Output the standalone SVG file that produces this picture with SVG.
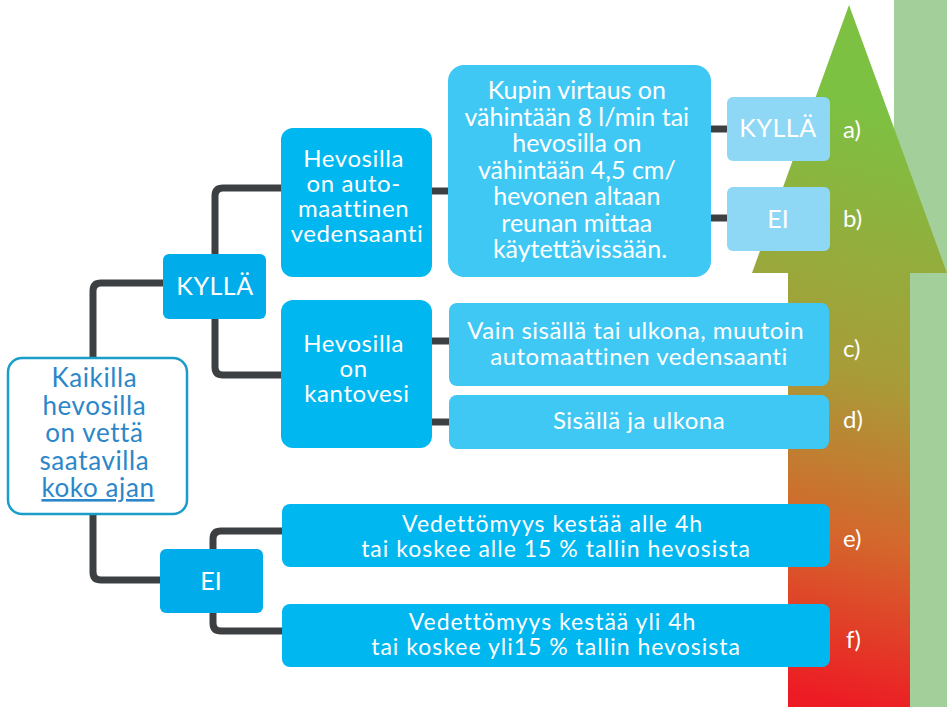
<svg xmlns="http://www.w3.org/2000/svg" width="947" height="707" viewBox="0 0 947 707">
<defs>
<linearGradient id="g" gradientUnits="userSpaceOnUse" x1="790" y1="690" x2="930" y2="120">
<stop offset="0" stop-color="#ED1C24"/>
<stop offset="0.28" stop-color="#D4672C"/>
<stop offset="0.55" stop-color="#A89C38"/>
<stop offset="1" stop-color="#7CC142"/>
</linearGradient>
<style>
.c{fill:none;stroke:#3C4043;stroke-width:7;stroke-linejoin:round}
.t{font-family:Lato,"Liberation Sans",sans-serif;fill:#fff;text-anchor:middle}
.lbl{font-family:Lato,"Liberation Sans",sans-serif;fill:#fff;font-size:24px}
.dk{fill:#00B7F0}
.md{fill:#3FC8F4}
.lt{fill:#8ED8F6}
</style>
</defs>
<rect x="894" y="0" width="53" height="707" fill="#A3D09A"/>
<polygon points="849,5 947,273 910,273 910,707 788,707 788,273 752,273" fill="url(#g)"/>
<g id="connectors">
<path class="c" d="M93,360 V291 Q93,283 101,283 H165"/>
<path class="c" d="M93,512 V572 Q93,580 101,580 H162"/>
<path class="c" d="M283,188 H223 Q215,188 215,196 V367 Q215,375 223,375 H283"/>
<path class="c" d="M430,191 H450"/>
<path class="c" d="M430,341 H451"/>
<path class="c" d="M430,422 H451"/>
<path class="c" d="M709,129 H729"/>
<path class="c" d="M709,218 H729"/>
<path class="c" d="M285,531 H221 Q213,531 213,539 V623 Q213,631 221,631 H285"/>
</g>
<g id="root">
<rect x="8" y="358" width="179" height="156" rx="14" fill="#fff" stroke="#1B9DCA" stroke-width="2.5"/>
<text class="t" style="fill:#2B87C9;font-size:26px;letter-spacing:0.6px">
<tspan x="98" y="387">Kaikilla</tspan>
<tspan x="98" y="415">hevosilla</tspan>
<tspan x="98" y="442">on vettä</tspan>
<tspan x="98" y="470">saatavilla</tspan>
<tspan x="98" y="497" text-decoration="underline">koko ajan</tspan>
</text>
</g>
<g id="kylla">
<rect x="163" y="254" width="103" height="65" rx="6" fill="#00ACEA"/>
<text class="t" x="215" y="295" font-size="25" letter-spacing="0.5">KYLLÄ</text>
</g>
<g id="ei">
<rect x="160" y="549" width="103" height="64" rx="6" fill="#00ACEA"/>
<text class="t" x="211" y="590" font-size="25">EI</text>
</g>
<g id="auto">
<rect class="dk" x="281" y="128" width="151" height="149" rx="12"/>
<text class="t" font-size="24" letter-spacing="0.6">
<tspan x="357" y="167">Hevosilla</tspan>
<tspan x="357" y="192">on auto-</tspan>
<tspan x="357" y="217">maattinen</tspan>
<tspan x="357" y="242">vedensaanti</tspan>
</text>
</g>
<g id="kanto">
<rect class="dk" x="281" y="300" width="151" height="148" rx="12"/>
<text class="t" font-size="24" letter-spacing="0.6">
<tspan x="357" y="352">Hevosilla</tspan>
<tspan x="357" y="377">on</tspan>
<tspan x="357" y="402">kantovesi</tspan>
</text>
</g>
<g id="kupin">
<rect class="md" x="448" y="65" width="263" height="212" rx="16"/>
<text class="t" font-size="25">
<tspan x="580" y="99">Kupin virtaus on</tspan>
<tspan x="580" y="126">vähintään 8 l/min tai</tspan>
<tspan x="580" y="152">hevosilla on</tspan>
<tspan x="580" y="179">vähintään 4,5 cm/</tspan>
<tspan x="580" y="205">hevonen altaan</tspan>
<tspan x="580" y="232">reunan mittaa</tspan>
<tspan x="580" y="258">käytettävissään.</tspan>
</text>
</g>
<g id="a">
<rect class="lt" x="727" y="97" width="103" height="64" rx="6"/>
<text class="t" x="778" y="137" font-size="25" letter-spacing="0.5">KYLLÄ</text>
<text class="lbl" x="843" y="138">a)</text>
</g>
<g id="b">
<rect class="lt" x="727" y="187" width="103" height="64" rx="6"/>
<text class="t" x="778" y="228" font-size="25">EI</text>
<text class="lbl" x="843" y="227">b)</text>
</g>
<g id="c">
<rect class="md" x="449" y="303" width="380" height="83" rx="8"/>
<text class="t" font-size="24" letter-spacing="0.5">
<tspan x="639" y="339">Vain sisällä tai ulkona, muutoin</tspan>
<tspan x="639" y="365">automaattinen vedensaanti</tspan>
</text>
<text class="lbl" x="843" y="357">c)</text>
</g>
<g id="d">
<rect class="md" x="449" y="395" width="380" height="54" rx="8"/>
<text class="t" x="639" y="429" font-size="24" letter-spacing="0.5">Sisällä ja ulkona</text>
<text class="lbl" x="843" y="428">d)</text>
</g>
<g id="e">
<rect class="dk" x="282" y="504" width="548" height="63" rx="8"/>
<text class="t" font-size="23" letter-spacing="1">
<tspan x="556" y="532">Vedettömyys kestää alle 4h</tspan>
<tspan x="556" y="557">tai koskee alle 15 % tallin hevosista</tspan>
</text>
<text class="lbl" x="843" y="547">e)</text>
</g>
<g id="f">
<rect class="dk" x="282" y="604" width="548" height="63" rx="8"/>
<text class="t" font-size="23" letter-spacing="1">
<tspan x="556" y="630">Vedettömyys kestää yli 4h</tspan>
<tspan x="556" y="655">tai koskee yli15 % tallin hevosista</tspan>
</text>
<text class="lbl" x="846" y="648">f)</text>
</g>
</svg>
